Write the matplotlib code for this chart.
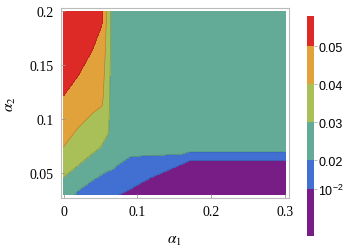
import numpy as np
import matplotlib
matplotlib.use("Agg")
import matplotlib.pyplot as plt
from matplotlib.colors import ListedColormap, BoundaryNorm
from matplotlib.cm import ScalarMappable

plt.rcParams['mathtext.fontset'] = 'stix'

# grid
alpha1 = [0, 0.02, 0.04, 0.052, 0.06, 0.066, 0.09, 0.16, 0.17, 0.3]
alpha2 = [0.03, 0.046, 0.058, 0.066, 0.074, 0.09, 0.11, 0.121, 0.16, 0.2]

# rows = alpha2 (bottom -> top), columns = alpha1
z_rows = [
    [0.024, 0.0185, 0.014, 0.013, 0.0125, 0.0105, 0.009, 0.005, 0.005, 0.004],
    [0.0299, 0.0245, 0.021, 0.019, 0.018, 0.017, 0.012, 0.007, 0.006, 0.005],
    [0.034, 0.0302, 0.025, 0.023, 0.022, 0.022, 0.016, 0.0099, 0.0075, 0.007],
    [0.037, 0.033, 0.029, 0.026, 0.025, 0.025, 0.0205, 0.018, 0.013, 0.013],
    [0.0399, 0.035, 0.032, 0.0295, 0.027, 0.027, 0.027, 0.028, 0.028, 0.028],
    [0.043, 0.0395, 0.036, 0.033, 0.031, 0.026, 0.025, 0.025, 0.025, 0.025],
    [0.048, 0.044, 0.041, 0.0395, 0.032, 0.026, 0.025, 0.025, 0.025, 0.025],
    [0.0499, 0.046, 0.043, 0.042, 0.033, 0.026, 0.025, 0.025, 0.025, 0.025],
    [0.056, 0.054, 0.049, 0.046, 0.035, 0.026, 0.025, 0.025, 0.025, 0.025],
    [0.060, 0.058, 0.056, 0.052, 0.037, 0.026, 0.025, 0.025, 0.025, 0.025],
]

levels = [0, 0.01, 0.02, 0.03, 0.04, 0.05, 0.07]
colors = ['#781d86', '#4270d2', '#63ab96', '#a9bf57', '#e1a23b', '#dd2a27']

# colorbar bands are not equally tall in the original
cbar_edges = [0, 0.0125, 0.02, 0.03, 0.04, 0.05, 0.058]
cbar_labels = [r'$\mathregular{10^{-2}}$', '0.02', '0.03', '0.04', '0.05']

X, Y = np.meshgrid(alpha1, alpha2)
Z = np.array(z_rows)

fig = plt.figure(figsize=(3.53, 2.53), dpi=100)
ax = fig.add_axes([0.1714, 0.2134, 0.6459, 0.751])

cmap = ListedColormap(colors)
ax.contourf(X, Y, Z, levels=levels, colors=colors)
ax.contour(X, Y, Z, levels=levels[1:-1], colors='k', linewidths=0.4, alpha=0.25)

ax.set_xlim(-0.0041, 0.3047)
ax.set_ylim(0.0272, 0.2028)
ax.set_xticks([0, 0.1, 0.2, 0.3])
ax.set_xticklabels(['0', '0.1', '0.2', '0.3'])
ax.set_yticks([0.05, 0.1, 0.15, 0.2])
ax.set_yticklabels(['0.05', '0.1', '0.15', '0.2'])
for lab in ax.get_xticklabels() + ax.get_yticklabels():
    lab.set_family('Liberation Serif')
    lab.set_fontsize(10)
ax.tick_params(direction='in', length=3, width=0.6, color='#999999', pad=5)
for s in ax.spines.values():
    s.set_color('#bbbbbb')
    s.set_linewidth(0.8)

ax.set_xlabel(r'$\alpha_1$', fontsize=11, labelpad=10)
ax.set_ylabel(r'$\alpha_2$', fontsize=11, labelpad=8)

cax = fig.add_axes([0.8697, 0.0632, 0.0198, 0.8696])
sm = ScalarMappable(norm=BoundaryNorm(cbar_edges, len(colors)), cmap=cmap)
cb = fig.colorbar(sm, cax=cax, boundaries=cbar_edges, spacing='proportional',
                  ticks=cbar_edges[1:-1])
cb.minorticks_off()
cb.ax.set_yticklabels(cbar_labels)
cb.outline.set_visible(False)
cb.ax.tick_params(length=2, width=0.5, color='#999999', pad=1)
for lab in cb.ax.get_yticklabels():
    lab.set_family('Liberation Sans')
    lab.set_fontsize(9)

fig.savefig('out.png', dpi=100)
